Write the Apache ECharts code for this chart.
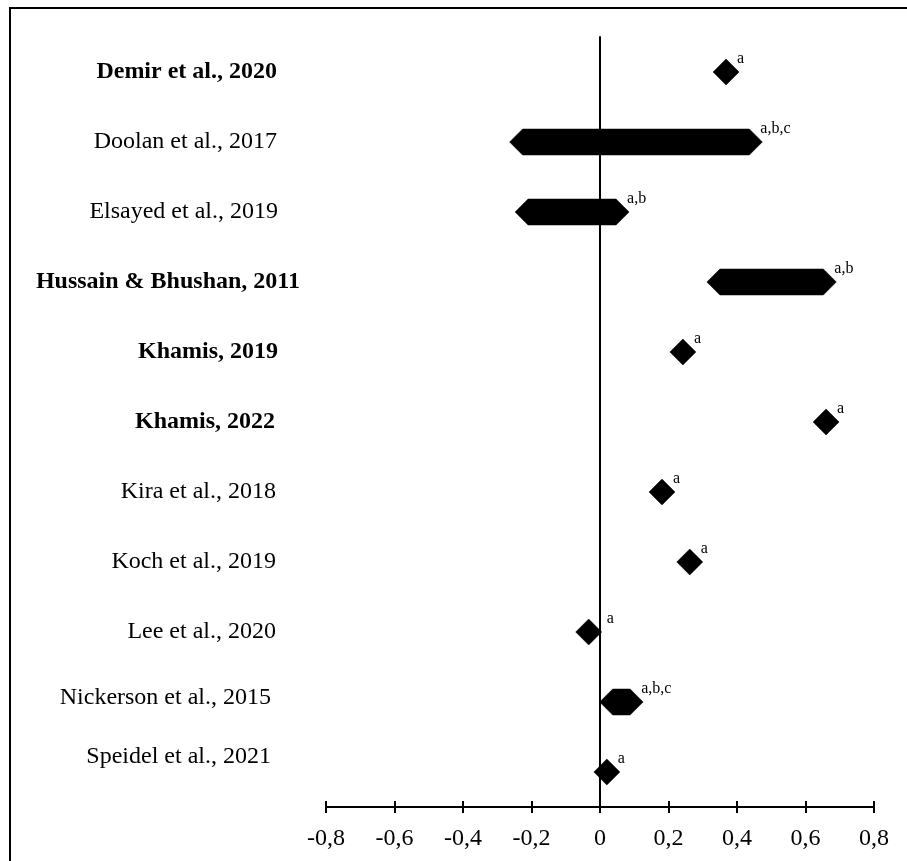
<!DOCTYPE html>
<html>
<head>
<meta charset="utf-8">
<script src="https://cdn.jsdelivr.net/npm/echarts@6/dist/echarts.min.js"></script>
<style>
html,body{margin:0;padding:0;background:#fff;}
#chart{width:907px;height:861px;}
</style>
</head>
<body>
<div id="chart"></div>
<script>
// ---- data ----
const studies = [
  'Demir et al., 2020',
  'Doolan et al., 2017',
  'Elsayed et al., 2019',
  'Hussain & Bhushan, 2011',
  'Khamis, 2019',
  'Khamis, 2022',
  'Kira et al., 2018',
  'Koch et al., 2019',
  'Lee et al., 2020',
  'Nickerson et al., 2015',
  'Speidel et al., 2021'
];
const boldStudy = [true, false, false, true, true, true, false, false, false, false, false];
const lowValues  = [0.368, -0.226, -0.21, 0.35, 0.242, 0.66, 0.181, 0.262, -0.033, 0.037, 0.02];
const highValues = [0.368,  0.436, 0.047, 0.652, 0.242, 0.66, 0.181, 0.262, -0.033, 0.088, 0.02];
const notes = ['a', 'a,b,c', 'a,b', 'a,b', 'a', 'a', 'a', 'a', 'a', 'a,b,c', 'a'];
const xTicks = [-0.8, -0.6, -0.4, -0.2, 0, 0.2, 0.4, 0.6, 0.8];

// ---- label layout tweaks (style only) ----
const labelPadRight = [23, 23, 22, 0, 22, 25, 24, 24, 24, 29, 29];
const labelLift = [0, 0, 0, 0, 0, 0, 0, 0, 0, 4, 15];
const noteNudge = [0, 0, 0, 0, 0, 0, 0, 0, 7, 0, 0];

const FONT = '"Liberation Serif", "Times New Roman", serif';
const chart = echarts.init(document.getElementById('chart'));

const yData = studies.map((s, i) => {
  const ts = {
    fontWeight: boldStudy[i] ? 'bold' : 'normal',
    padding: [0, labelPadRight[i], 0, 0]
  };
  if (labelLift[i] > 0) {
    ts.verticalAlign = 'bottom';
    ts.lineHeight = labelLift[i] * 2;
  }
  return { value: s, textStyle: ts };
});

const seriesData = studies.map((s, i) => [lowValues[i], highValues[i], i]);

const fmt = v => {
  if (Math.abs(v) < 1e-9) return '0';
  return v.toFixed(1).replace('.', ',');
};

chart.setOption({
  animation: false,
  backgroundColor: '#fff',
  graphic: [{
    type: 'rect',
    shape: { x: 10, y: 8, width: 1000, height: 1000 },
    style: { fill: 'none', stroke: '#000', lineWidth: 2 },
    silent: true, z: -1
  }],
  grid: { left: 326, right: 33, top: 37, bottom: 54, containLabel: false },
  xAxis: [{
    type: 'value',
    min: xTicks[0], max: xTicks[xTicks.length - 1], interval: 0.2,
    position: 'bottom',
    axisLine: { show: true, onZero: false, lineStyle: { color: '#000', width: 2 } },
    axisTick: { show: true, inside: false, length: 6, lineStyle: { color: '#000', width: 2 } },
    axisLabel: { show: true, margin: 20, fontFamily: FONT, fontSize: 24, color: '#000', formatter: fmt },
    splitLine: { show: false }
  }, {
    type: 'value',
    min: xTicks[0], max: xTicks[xTicks.length - 1], interval: 0.2,
    position: 'bottom',
    axisLine: { show: false, onZero: false },
    axisTick: { show: true, inside: true, length: 6, lineStyle: { color: '#000', width: 2 } },
    axisLabel: { show: false },
    splitLine: { show: false }
  }],
  yAxis: [{
    type: 'category',
    inverse: true,
    data: yData,
    axisLine: { show: false, onZero: false },
    axisTick: { show: false },
    splitLine: { show: false },
    axisLabel: { margin: 26, fontFamily: FONT, fontSize: 24, color: '#000', align: 'right' }
  }, {
    type: 'category',
    inverse: true,
    data: studies,
    position: 'left',
    axisLine: { show: true, onZero: true, onZeroAxisIndex: 0, lineStyle: { color: '#000', width: 2 } },
    axisTick: { show: false },
    axisLabel: { show: false },
    splitLine: { show: false }
  }],
  series: [{
    type: 'custom',
    xAxisIndex: 0,
    yAxisIndex: 0,
    dimensions: ['low', 'high', 'row'],
    encode: { x: [0, 1], y: 2 },
    data: seriesData,
    renderItem: function (params, api) {
      const lo = api.coord([api.value(0), api.value(2)]);
      const hi = api.coord([api.value(1), api.value(2)]);
      const cy = lo[1];
      const h = 13;
      const pts = [
        [lo[0] - h, cy], [lo[0], cy - h], [hi[0], cy - h],
        [hi[0] + h, cy], [hi[0], cy + h], [lo[0], cy + h]
      ];
      const i = params.dataIndex;
      return {
        type: 'group',
        children: [{
          type: 'polygon',
          shape: { points: pts },
          style: { fill: '#000', stroke: '#000', lineWidth: 0.5 }
        }, {
          type: 'text',
          style: {
            text: notes[i],
            x: hi[0] + h - 2 + noteNudge[i],
            y: cy - 13,
            fontFamily: FONT,
            fontSize: 16,
            fill: '#000',
            align: 'left',
            verticalAlign: 'middle'
          }
        }]
      };
    },
    z: 3
  }]
});
</script>
</body>
</html>
